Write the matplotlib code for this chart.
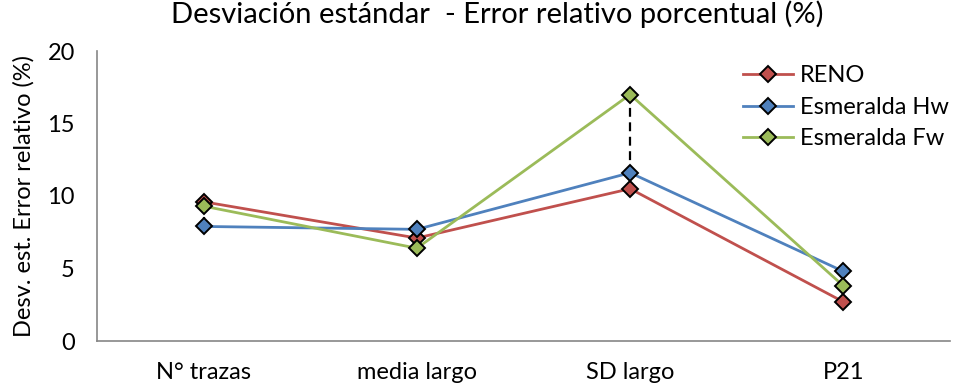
import numpy as np
import matplotlib
matplotlib.use("Agg")
from matplotlib import pyplot as plt

plt.rcParams['font.family'] = ['Lato', 'DejaVu Sans']

# categorias y series (desv. est. del error relativo, %)
categorias = ["N° trazas", "media largo", "SD largo", "P21"]
reno = [9.6, 7.1, 10.5, 2.7]
esmeralda_hw = [7.9, 7.7, 11.6, 4.8]
esmeralda_fw = [9.3, 6.4, 17.0, 3.8]

series = [
    ("RENO", reno, "#C0504D"),
    ("Esmeralda Hw", esmeralda_hw, "#4F81BD"),
    ("Esmeralda Fw", esmeralda_fw, "#9BBB59"),
]

fig = plt.figure(figsize=(9.59, 3.91), dpi=100)
ax = fig.add_axes([97/959, 1 - 341/391, (950 - 97)/959, (341 - 51)/391])

x = np.arange(len(categorias))

# lineas max-min entre series
todos = np.array([reno, esmeralda_hw, esmeralda_fw])
ax.vlines(x, todos.min(axis=0), todos.max(axis=0), colors="black",
          linestyles=(0, (4, 2.5)), linewidth=1.6, zorder=1)

for nombre, valores, color in series:
    ax.plot(x, valores, color=color, linewidth=2.0, marker="D",
            markersize=8, markerfacecolor=color, markeredgecolor="black",
            markeredgewidth=1.4, label=nombre, zorder=3)

ax.set_xlim(-0.5, len(categorias) - 0.5)
ax.set_ylim(0, 20)
ax.set_yticks([0, 5, 10, 15, 20])
ax.set_xticks(x)
ax.set_xticklabels(categorias)
ax.tick_params(axis="both", length=0, labelsize=17)
ax.tick_params(axis="y", pad=16)
ax.tick_params(axis="x", pad=15)

for lado in ["top", "right"]:
    ax.spines[lado].set_visible(False)
for lado in ["left", "bottom"]:
    ax.spines[lado].set_color("#868686")
    ax.spines[lado].set_linewidth(1.2)

ax.set_ylabel("Desv. est. Error relativo (%)", fontsize=17, labelpad=9)
fig.suptitle("Desviación estándar  - Error relativo porcentual (%)",
             fontsize=21, x=0.518, y=1.0)

ax.legend(loc="upper right", bbox_to_anchor=(1.015, 1.0), frameon=False,
          fontsize=17, handlelength=2.1, handletextpad=0.3, labelspacing=0.45,
          borderaxespad=0.2)

fig.savefig("out.png", dpi=100)
